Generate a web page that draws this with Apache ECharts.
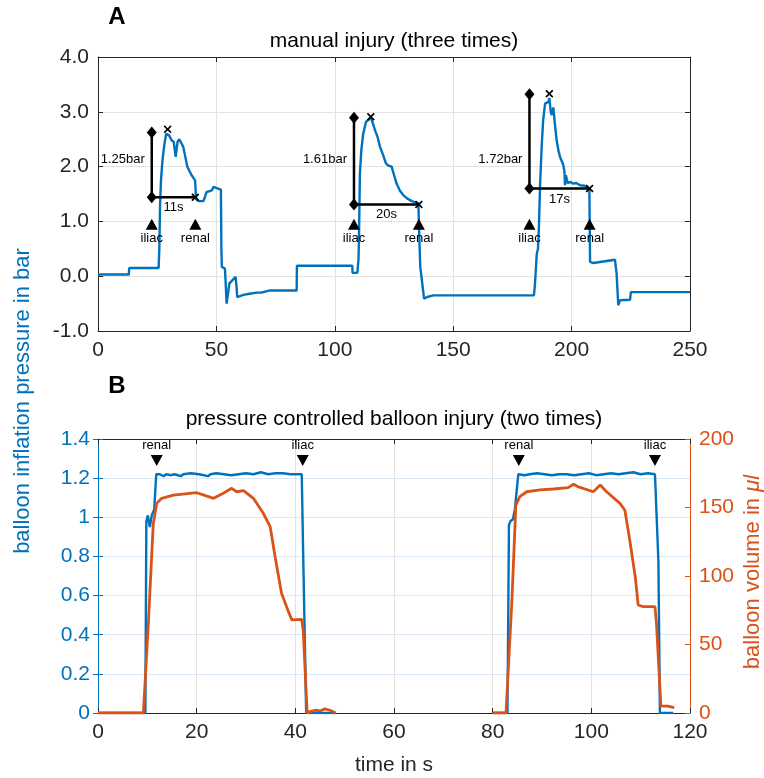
<!DOCTYPE html>
<html><head><meta charset="utf-8">
<script src="https://cdn.jsdelivr.net/npm/echarts@6/dist/echarts.min.js"></script>
<style>html,body{margin:0;padding:0;background:#fff}#c{width:764px;height:778px}</style>
</head><body><div id="c"></div>
<script>
const FONT = "'Liberation Sans', Arial, Helvetica, sans-serif";
const BLUE = '#0072BD', ORANGE = '#D95319', DARK = '#262626';

// ---------------- Panel A: manual injury ----------------
const xTicksA = [0, 50, 100, 150, 200, 250];
const yTicksA = [-1, 0, 1, 2, 3, 4];
const pressureA = [
 [0,0.03],[13.0,0.03],[13.2,0.15],[25.6,0.15],[25.9,0.5],[26.2,1.3],[26.6,1.75],[27.2,2.1],[28.0,2.4],[28.8,2.6],
 [29.3,2.63],[30.0,2.57],[30.6,2.6],[31.1,2.48],[32.0,2.45],[32.8,2.18],[33.6,2.45],[34.3,2.5],[35.3,2.42],[36.0,2.36],
 [37.0,2.15],[37.7,2.0],[38.6,1.92],[39.6,1.84],[41.0,1.75],[41.3,1.5],[41.5,1.4],[42.5,1.37],[44.5,1.37],[45.2,1.45],
 [45.9,1.54],[47.0,1.55],[48.2,1.57],[48.7,1.63],[49.3,1.6],[51.9,1.58],[52.1,0.5],[52.3,0.17],[53.6,0.14],[54.0,-0.2],
 [54.3,-0.5],[54.8,-0.35],[55.5,-0.13],[58.1,-0.01],[58.5,-0.2],[58.8,-0.38],[61.4,-0.34],[64,-0.32],[67,-0.30],[69,-0.30],
 [72.6,-0.26],[83.9,-0.26],[84.0,0.19],[107.4,0.19],[107.5,0.06],[109.5,0.06],[110.0,0.3],[110.2,0.66],[110.6,1.87],[111.2,2.3],
 [112.0,2.6],[113.2,2.82],[114.2,2.85],[115.2,2.9],[116,2.8],[117.0,2.66],[118,2.55],[119.1,2.36],[120.5,2.2],[121.6,2.06],
 [122.5,2.02],[124.0,2.0],[125,1.85],[126.1,1.69],[127.5,1.56],[128.9,1.48],[130.5,1.42],[132.5,1.37],[135.3,1.33],[135.5,1.0],
 [135.8,0.55],[136.1,0.17],[136.6,0.15],[137.7,-0.41],[139,-0.38],[141.6,-0.35],[184.1,-0.35],[184.5,-0.16],[185.3,0.41],[185.8,0.5],
 [186.2,0.9],[186.7,1.69],[187.4,2.4],[188.0,2.85],[188.8,3.15],[189.5,3.18],[190.2,3.18],[190.6,3.25],[191.2,3.0],[191.6,2.94],
 [192.3,3.08],[193.0,2.75],[193.7,2.48],[194.4,2.3],[195.1,2.18],[196.5,2.03],[197.0,1.9],[197.2,1.66],[197.6,1.84],[198.3,1.7],
 [199.5,1.72],[200.7,1.69],[202,1.7],[203.5,1.66],[205.5,1.65],[207.5,1.60],[207.8,0.26],[209.2,0.24],[218.3,0.30],[219.0,0.05],
 [219.7,-0.53],[220.4,-0.44],[224.7,-0.43],[225.0,-0.29],[250,-0.29]
];
const iliacTimeA = [22.7, 108.1, 182.2];
const renalTimeA = [41.1, 135.5, 207.6];
const baseA = [1.44, 1.31, 1.60];
const topA = [2.62, 2.89, 3.32];
const peakTimeA = [29.4, 115.2, 190.6];
const peakA = [2.68, 2.91, 3.33];
const ampLabelA = ['1.25bar', '1.61bar', '1.72bar'];
const ampLabelYA = [2.13, 2.13, 2.13];
const durLabelA = ['11s', '20s', '17s'];
const markerYA = 0.95;

// ---------------- Panel B: pressure controlled ----------------
const xTicksB = [0, 20, 40, 60, 80, 100, 120];
const yTicksB = [0, 0.2, 0.4, 0.6, 0.8, 1.0, 1.2, 1.4];
const yTicksBRight = [0, 50, 100, 150, 200];
const pressureB1 = [
 [0,0],[9.6,0],[9.8,0.98],[10.1,1.01],[10.5,0.95],[10.9,1.01],[11.4,1.04],[11.8,1.22],[12.5,1.22],[13.3,1.21],[13.8,1.22],
 [14.8,1.215],[15.5,1.22],[16.8,1.21],[17.3,1.22],[18.8,1.225],[20.5,1.22],[22.3,1.21],[22.8,1.22],[24,1.225],[25.5,1.22],
 [27,1.215],[28.5,1.22],[30,1.225],[31.5,1.22],[33,1.23],[34.5,1.22],[36,1.225],[37.5,1.225],[39,1.22],[40.5,1.22],
 [41.3,1.22],[41.6,0.80],[42.2,0],[48,0]
];
const pressureB2 = [
 [80,0],[83.0,0],[83.3,0.96],[83.6,0.98],[84.1,0.99],[84.5,1.04],[85.2,1.22],[86.5,1.215],[87.5,1.22],[89,1.225],[90.5,1.22],
 [92,1.215],[93.5,1.22],[95,1.22],[96.5,1.215],[98,1.22],[99.5,1.225],[101,1.215],[102.5,1.22],[104,1.225],[105.5,1.22],
 [107,1.225],[108.5,1.23],[110,1.22],[111.5,1.225],[112.9,1.22],[113.6,0.77],[113.9,0],[116.6,0]
];
const volumeB1 = [
 [0,0],[9.2,0],[10.2,65],[11.2,138],[11.9,153],[12.9,156.7],[15.3,159],[20,160.8],[21.5,159],[23.4,156.7],[25.4,160.4],
 [27.1,164],[28.1,161.5],[29.5,162.3],[31.5,156.7],[33.5,145.8],[34.9,136],[35.9,114],[37.2,87.4],[38.6,74],[39.3,68],
 [41.3,68.4],[41.6,60],[42.4,0],[43,1],[44,2],[45,1.5],[46,3],[47,2],[48.2,0]
];
const volumeB2 = [
 [80,0],[82.7,0],[83.9,82],[84.7,151.8],[85.5,157.9],[86.9,161.5],[89.6,162.8],[92.3,163.5],[95.3,164.5],[96.4,167],[97.4,165],
 [100.4,161.5],[101.8,166.4],[103.1,161.5],[105.8,153],[106.8,148],[107.8,126],[108.9,99.5],[109.5,78.8],[110.5,77.6],
 [112.9,77.6],[113.2,65.5],[114.1,5],[114.5,6],[115.5,5],[116.8,4]
];
const eventTimeB = [11.9, 41.5, 85.3, 112.9];
const eventLabelB = ['renal', 'iliac', 'renal', 'iliac'];
const markerYB = 1.29;

// ---------------- chart ----------------
const chart = echarts.init(document.getElementById('c'), null, {renderer: 'canvas'});
const tickFont = {fontSize: 21, fontFamily: FONT};
const annFont = {fontSize: 13, fontFamily: FONT, color: '#000'};
const CROSS = 'path://M0,1.5L1.5,0L5,3.5L8.5,0L10,1.5L6.5,5L10,8.5L8.5,10L5,6.5L1.5,10L0,8.5L3.5,5Z';
const BLACK_ITEM = {color: '#000', opacity: 1};

function axisBase(color, showLabel, extra) {
  return Object.assign({
    type: 'value',
    axisLine: {show: true, onZero: false, lineStyle: {color: color, width: 1}},
    axisTick: {show: true, inside: true, length: 5, lineStyle: {color: color}},
    axisLabel: Object.assign({show: showLabel, color: color, margin: 9}, tickFont),
    splitLine: {show: false}
  }, extra);
}
const rng = arr => ({min: arr[0], max: arr[arr.length - 1], interval: arr[1] - arr[0]});
const fmt1 = v => v.toFixed(1);
const fmtB = v => String(+v.toFixed(1));

const xAxis = [
  axisBase(DARK, true, Object.assign({gridIndex: 0, position: 'bottom',
    splitLine: {show: true, lineStyle: {color: '#e2e2e2'}}}, rng(xTicksA))),
  axisBase(DARK, false, Object.assign({gridIndex: 0, position: 'top'}, rng(xTicksA))),
  axisBase(DARK, true, Object.assign({gridIndex: 1, position: 'bottom',
    splitLine: {show: true, lineStyle: {color: '#e2e2e2'}}}, rng(xTicksB))),
  axisBase(DARK, false, Object.assign({gridIndex: 1, position: 'top'}, rng(xTicksB)))
];
const yAxis = [
  axisBase(DARK, true, Object.assign({gridIndex: 0, position: 'left',
    splitLine: {show: true, lineStyle: {color: '#e2e2e2'}}}, rng(yTicksA))),
  axisBase(DARK, false, Object.assign({gridIndex: 0, position: 'right'}, rng(yTicksA))),
  axisBase(BLUE, true, Object.assign({gridIndex: 1, position: 'left',
    splitLine: {show: true, lineStyle: {color: '#d9e8f4'}}}, rng(yTicksB))),
  axisBase(ORANGE, true, Object.assign({gridIndex: 1, position: 'right'}, rng(yTicksBRight))),
  axisBase(BLUE, false, Object.assign({gridIndex: 1, position: 'right', axisLine: {show: false}}, rng(yTicksB)))
];
yAxis[0].axisLabel.formatter = fmt1;
yAxis[2].axisLabel.formatter = fmtB;
yAxis[2].axisLabel.margin = 8;

const series = [];
series.push({type: 'line', xAxisIndex: 0, yAxisIndex: 0, data: pressureA, showSymbol: false,
  lineStyle: {color: BLUE, width: 2.4}, itemStyle: {color: BLUE}, z: 3});
for (let i = 0; i < iliacTimeA.length; i++) {
  series.push({type: 'line', xAxisIndex: 0, yAxisIndex: 0, showSymbol: false,
    data: [[renalTimeA[i], baseA[i]], [iliacTimeA[i], baseA[i]], [iliacTimeA[i], topA[i]]],
    lineStyle: {color: '#000', width: 2.5}, itemStyle: BLACK_ITEM, z: 4});
}
// diamonds
series.push({type: 'scatter', xAxisIndex: 0, yAxisIndex: 0, symbol: 'diamond', symbolSize: [10, 12],
  itemStyle: BLACK_ITEM, z: 5,
  data: iliacTimeA.map((t, i) => [t, topA[i]]).concat(iliacTimeA.map((t, i) => [t, baseA[i]]))});
// crosses
series.push({type: 'scatter', xAxisIndex: 0, yAxisIndex: 0, symbol: CROSS, symbolSize: 8,
  itemStyle: BLACK_ITEM, z: 5,
  data: peakTimeA.map((t, i) => [t, peakA[i]]).concat(renalTimeA.map((t, i) => [t, baseA[i]]))});
// up triangles with labels
const triA = [];
const triALab = [];
iliacTimeA.forEach((t, i) => { triA.push([t, markerYA]); triALab.push('iliac');
  triA.push([renalTimeA[i], markerYA]); triALab.push('renal'); });
series.push({type: 'scatter', xAxisIndex: 0, yAxisIndex: 0, symbol: 'triangle', symbolSize: [12, 11],
  itemStyle: BLACK_ITEM, z: 5, data: triA,
  label: Object.assign({show: true, position: 'bottom', distance: 2, formatter: p => triALab[p.dataIndex]}, annFont)});
// amplitude labels
series.push({type: 'scatter', xAxisIndex: 0, yAxisIndex: 0, symbolSize: 0, z: 5, itemStyle: BLACK_ITEM,
  data: iliacTimeA.map((t, i) => [t, ampLabelYA[i]]),
  label: Object.assign({show: true, position: 'left', distance: 7, formatter: p => ampLabelA[p.dataIndex]}, annFont)});
// duration labels
series.push({type: 'scatter', xAxisIndex: 0, yAxisIndex: 0, symbolSize: 0, z: 5, itemStyle: BLACK_ITEM,
  data: iliacTimeA.map((t, i) => [(t + renalTimeA[i]) / 2, baseA[i]]),
  label: Object.assign({show: true, position: 'bottom', distance: 4, formatter: p => durLabelA[p.dataIndex]}, annFont)});

// Panel B
[pressureB1, pressureB2].forEach(d => series.push({type: 'line', xAxisIndex: 2, yAxisIndex: 2, data: d,
  showSymbol: false, lineStyle: {color: BLUE, width: 2.4}, itemStyle: {color: BLUE}, z: 3}));
[volumeB1, volumeB2].forEach(d => series.push({type: 'line', xAxisIndex: 2, yAxisIndex: 3, data: d,
  showSymbol: false, lineStyle: {color: ORANGE, width: 2.8}, itemStyle: {color: ORANGE}, z: 4}));
series.push({type: 'scatter', xAxisIndex: 2, yAxisIndex: 2, symbol: 'triangle', symbolRotate: 180,
  symbolSize: [12, 11], itemStyle: BLACK_ITEM, z: 5,
  data: eventTimeB.map(t => [t, markerYB]),
  label: Object.assign({show: true, position: 'top', distance: 3, formatter: p => eventLabelB[p.dataIndex]}, annFont)});

function txt(text, x, y, size, color, opts) {
  return Object.assign({type: 'text', x: x, y: y, z: 10,
    style: {text: text, fill: color, font: (opts && opts.bold ? 'bold ' : '') + size + 'px ' + FONT,
      align: 'center', verticalAlign: 'middle', textAlign: 'center', textVerticalAlign: 'middle'}},
    opts && opts.rotation ? {rotation: opts.rotation} : {});
}
const graphic = [
  txt('A', 117, 17, 24, '#000', {bold: true}),
  txt('manual injury (three times)', 394, 41, 21, '#000'),
  txt('B', 117, 386, 24, '#000', {bold: true}),
  txt('pressure controlled balloon injury (two times)', 394, 419, 21, '#000'),
  txt('time in s', 394, 765, 21, DARK),
  txt('balloon inflation pressure in bar', 23, 401, 22, BLUE, {rotation: Math.PI / 2}),
  {type: 'text', x: 753, y: 572, rotation: Math.PI / 2, z: 10,
    style: {text: '{a|balloon volume in }{b|μl}', align: 'center', verticalAlign: 'middle',
      textAlign: 'center', textVerticalAlign: 'middle',
      rich: {a: {fontSize: 22, fontFamily: FONT, fill: ORANGE, color: ORANGE},
             b: {fontSize: 22, fontFamily: FONT, fontStyle: 'italic', fill: ORANGE, color: ORANGE}}}}
];

chart.setOption({
  animation: false,
  backgroundColor: '#fff',
  grid: [
    {left: 98, right: 74, top: 57, height: 274, containLabel: false},
    {left: 98, right: 74, top: 439, height: 274, containLabel: false}
  ],
  xAxis: xAxis,
  yAxis: yAxis,
  series: series,
  graphic: graphic
});
</script>
</body></html>
